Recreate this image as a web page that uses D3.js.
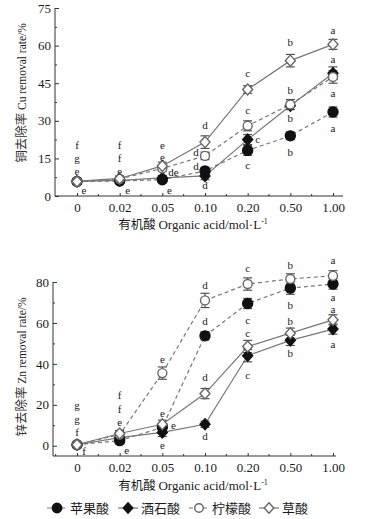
<!DOCTYPE html>
<html><head><meta charset="utf-8">
<script src="https://cdn.jsdelivr.net/npm/d3@7"></script>
<style>
body{margin:0;background:#fff}
svg{display:block}
text{fill:#1a1a1a}
</style>
</head><body><svg id="c" width="388" height="519"></svg>
<script>
// ---------- data ----------
const categories = ["0","0.02","0.05","0.10","0.20","0.50","1.00"];
const seriesNames = ["苹果酸","酒石酸","柠檬酸","草酸"];

// Cu removal rate (%)
const cuMalic    = [5.8, 6.0, 6.5, 10.0, 18.2, 24.0, 33.5];
const cuTartaric = [5.8, 6.2, 7.2,  8.0, 22.5, 36.0, 49.0];
const cuCitric   = [5.8, 6.8, 11.0, 16.0, 28.0, 36.5, 47.5];
const cuOxalic   = [5.8, 7.0, 12.0, 21.5, 42.5, 54.0, 60.5];
const cuErrMalic    = [1, 1, 1, 1.5, 2, 1.5, 2];
const cuErrTartaric = [1, 1, 1, 1.5, 2, 1.5, 2.5];
const cuErrCitric   = [1, 1, 1, 1.5, 2, 2, 2.5];
const cuErrOxalic   = [1, 1, 1.5, 2.5, 1.5, 2.5, 2];
const cuTicks = [0, 15, 30, 45, 60, 75];

// Zn removal rate (%)
const znMalic    = [0.5, 2.5, 9.0, 53.7, 69.5, 77.0, 79.0];
const znTartaric = [0.5, 4.0, 6.5, 10.5, 44.0, 51.5, 57.0];
const znCitric   = [0.5, 5.5, 35.5, 71.0, 79.0, 81.5, 83.0];
const znOxalic   = [0.5, 6.0, 10.5, 25.5, 48.5, 55.0, 61.5];
const znErrMalic    = [1, 1.5, 1.5, 2, 2.5, 3, 2.5];
const znErrTartaric = [1, 1.5, 2, 1.5, 3, 2.5, 2.5];
const znErrCitric   = [1, 1.5, 3, 3.5, 3, 2.5, 2.5];
const znErrOxalic   = [1, 1.5, 2, 2.5, 3, 2.5, 2.5];
const znTicks = [0, 20, 40, 60, 80];

// significance letters: [category, value-position, letter, dx]
const cuLetters = [
 ["0",20.0,"f",0],["0",15.0,"g",0],["0",10.0,"e",0],["0",2.3,"e",7],
 ["0.02",20.0,"f",0],["0.02",15.0,"f",0],["0.02",10.0,"e",0],["0.02",2.3,"e",8],
 ["0.05",20.3,"e",0],["0.05",15.3,"e",0],["0.05",9.4,"de",11],["0.05",2.3,"e",7],
 ["0.10",28.2,"d",0],["0.10",17.5,"d",-9],["0.10",12,"d",-9],["0.10",4.3,"d",0],
 ["0.20",48.9,"c",0],["0.20",34,"c",0],["0.20",22.6,"c",10],["0.20",12.2,"c",0],
 ["0.50",61.1,"b",0],["0.50",42.1,"b",0],["0.50",30.8,"b",0],["0.50",17.5,"b",0],
 ["1.00",66,"a",0],["1.00",54.7,"a",0],["1.00",40.8,"a",0],["1.00",26.9,"a",0]
];
const znLetters = [
 ["0",19.8,"g",0],["0",13.0,"g",0],["0",6.5,"f",0],["0",-2.8,"f",7],
 ["0.02",24.6,"f",0],["0.02",18,"f",0],["0.02",11.4,"e",0],["0.02",-2.4,"e",7],
 ["0.05",42,"e",0],["0.05",15.6,"e",0],["0.05",9.8,"e",11],["0.05",0,"e",0],
 ["0.10",78.5,"d",0],["0.10",60.6,"d",0],["0.10",33.2,"d",0],["0.10",4.5,"d",0],
 ["0.20",86.7,"c",0],["0.20",61.5,"c",0],["0.20",55,"c",0],["0.20",34.6,"c",0],
 ["0.50",88.3,"b",0],["0.50",68.8,"b",0],["0.50",60.6,"b",0],["0.50",45.2,"b",0],
 ["1.00",90.4,"a",0],["1.00",72.4,"a",0],["1.00",66.6,"a",0],["1.00",49.6,"a",0]
];

// ---------- styles ----------
const SERIF = "'Liberation Serif', 'DejaVu Serif', serif";
const CJK = "'Noto Sans CJK SC', sans-serif";
const styles = [
  {filled:true,  shape:"circle",  dash:"4,3"},
  {filled:true,  shape:"diamond", dash:null},
  {filled:false, shape:"circle",  dash:"4,3"},
  {filled:false, shape:"diamond", dash:null}
];
const lineColor = "#777";
const svg = d3.select("#c");

function marker(g, st, x, y, k){
  k = k || 1;
  const col = st.filled ? "#111" : "#666";
  const fill = st.filled ? "#111" : "#fff";
  if(st.shape==="circle"){
    g.append("circle").attr("cx",x).attr("cy",y).attr("r",(st.filled?5:4.5)*k)
     .attr("fill",fill).attr("stroke",col).attr("stroke-width",1.4);
  } else {
    const w = 5*k, h = 5.5*k;
    g.append("path").attr("d",`M${x},${y-h}L${x+w},${y}L${x},${y+h}L${x-w},${y}Z`)
     .attr("fill",fill).attr("stroke",col).attr("stroke-width",1.4);
  }
}

function panel(cfg){
  const x = d3.scalePoint().domain(categories).range([77,333]);
  const y = d3.scaleLinear().domain(cfg.yDomain).range(cfg.yRange);
  const g = svg.append("g");
  const axisY = y(cfg.yDomain[0]);
  const x0 = cfg.axisX;

  // y axis
  const ya = g.append("g").attr("transform",`translate(${x0},0)`)
    .call(d3.axisLeft(y).tickValues(cfg.ticks).tickSize(-4).tickSizeOuter(0).tickPadding(4));
  ya.attr("font-family",SERIF).attr("font-size",13);
  ya.select(".domain").remove();
  ya.selectAll("text").attr("fill","#1a1a1a");
  ya.selectAll("line").attr("stroke","#333");
  const minor = [];
  for(let i=0;i<cfg.ticks.length-1;i++) minor.push((cfg.ticks[i]+cfg.ticks[i+1])/2);
  g.append("g").attr("transform",`translate(${x0},0)`)
    .call(d3.axisLeft(y).tickValues(minor).tickSize(-2).tickFormat(""))
    .call(s=>{s.select(".domain").remove(); s.selectAll("line").attr("stroke","#333");});
  g.append("line").attr("x1",x0).attr("x2",x0)
    .attr("y1",axisY).attr("y2",y(cfg.ticks[cfg.ticks.length-1])).attr("stroke","#333");

  // x axis
  g.append("line").attr("x1",x0).attr("x2",cfg.axisEnd).attr("y1",axisY).attr("y2",axisY).attr("stroke","#333");
  const xa = g.append("g").attr("transform",`translate(0,${axisY})`)
    .call(d3.axisBottom(x).tickSize(-3).tickPadding(7));
  xa.attr("font-family",SERIF).attr("font-size",13);
  xa.select(".domain").remove();
  xa.selectAll("line").attr("stroke","#333");
  xa.selectAll("text").attr("fill","#1a1a1a");
  const step = x.step();
  const mids = [];
  for(let i=0;i<categories.length;i++){ mids.push(x(categories[i])-step/2); }
  mids.push(x(categories[categories.length-1])+step/2);
  g.selectAll(".xm").data(mids.filter(m=>m>x0+1 && m<cfg.axisEnd)).enter().append("line")
    .attr("x1",d=>d).attr("x2",d=>d).attr("y1",axisY).attr("y2",axisY-2).attr("stroke","#333");

  // x title
  const xt = g.append("text").attr("x",193).attr("y",cfg.xTitleY).attr("text-anchor","middle")
    .attr("font-size",13).attr("font-family",SERIF);
  xt.append("tspan").attr("font-family",CJK).attr("font-size",12.5).text("有机酸 ");
  xt.append("tspan").text("Organic acid/mol·L");
  xt.append("tspan").attr("font-size",8).attr("dy",-5).text("-1");

  // y title
  const yt = g.append("text").attr("transform",`translate(26,${cfg.yTitleY}) rotate(-90)`)
    .attr("text-anchor","middle").attr("font-size",11.5).attr("font-family",SERIF);
  yt.append("tspan").attr("font-family",CJK).attr("font-size",12.5).attr("fill","#333").text(cfg.yTitleCn+" ");
  yt.append("tspan").text(cfg.yTitleEn);

  // lines
  cfg.series.forEach((s,i)=>{
    const st = styles[i];
    g.append("path").datum(s.v)
      .attr("d",d3.line().x((d,j)=>x(categories[j])).y(d=>y(d)))
      .attr("fill","none").attr("stroke",lineColor).attr("stroke-width",1.2)
      .attr("stroke-dasharray",st.dash);
  });
  // error bars
  cfg.series.forEach((s,i)=>{
    s.v.forEach((v,j)=>{
      const cx = x(categories[j]);
      const e = s.e[j];
      const eg = g.append("g").attr("stroke","#444").attr("stroke-width",1.1);
      eg.append("line").attr("x1",cx).attr("x2",cx).attr("y1",y(v-e)).attr("y2",y(v+e));
      eg.append("line").attr("x1",cx-4.5).attr("x2",cx+4.5).attr("y1",y(v-e)).attr("y2",y(v-e));
      eg.append("line").attr("x1",cx-4.5).attr("x2",cx+4.5).attr("y1",y(v+e)).attr("y2",y(v+e));
    });
  });
  // markers
  cfg.series.forEach((s,i)=>{
    s.v.forEach((v,j)=>marker(g, styles[i], x(categories[j]), y(v)));
  });
  // letters
  g.selectAll(".lt").data(cfg.letters).enter().append("text")
    .attr("x",d=>x(d[0])+d[3]).attr("y",d=>y(d[1])).attr("dy","0.33em")
    .attr("text-anchor","middle").attr("font-size",11).attr("font-family",SERIF).text(d=>d[2]);
}

panel({
  yDomain:[0,75], yRange:[196,8], ticks:cuTicks, axisX:55, axisEnd:343,
  xTitleY:229, yTitleY:93, yTitleCn:"铜去除率", yTitleEn:"Cu removal rate/%",
  series:[{v:cuMalic,e:cuErrMalic},{v:cuTartaric,e:cuErrTartaric},{v:cuCitric,e:cuErrCitric},{v:cuOxalic,e:cuErrOxalic}],
  letters:cuLetters
});
panel({
  yDomain:[-5,80], yRange:[456,282], ticks:znTicks, axisX:53, axisEnd:336,
  xTitleY:490, yTitleY:367, yTitleCn:"锌去除率", yTitleEn:"Zn removal rate/%",
  series:[{v:znMalic,e:znErrMalic},{v:znTartaric,e:znErrTartaric},{v:znCitric,e:znErrCitric},{v:znOxalic,e:znErrOxalic}],
  letters:znLetters
});

// legend
const legX = [57, 128, 199, 269];
const lg = svg.append("g");
seriesNames.forEach((name,i)=>{
  const cx = legX[i], cy = 508;
  lg.append("line").attr("x1",cx-10).attr("x2",cx+10).attr("y1",cy).attr("y2",cy)
    .attr("stroke",lineColor).attr("stroke-width",1.2).attr("stroke-dasharray",styles[i].dash);
  marker(lg, styles[i], cx, cy, 0.95);
  lg.append("text").attr("x",cx+13).attr("y",cy).attr("dy","0.36em")
    .attr("font-family",CJK).attr("font-size",13).attr("fill","#222").text(name);
});
</script>
</body></html>
